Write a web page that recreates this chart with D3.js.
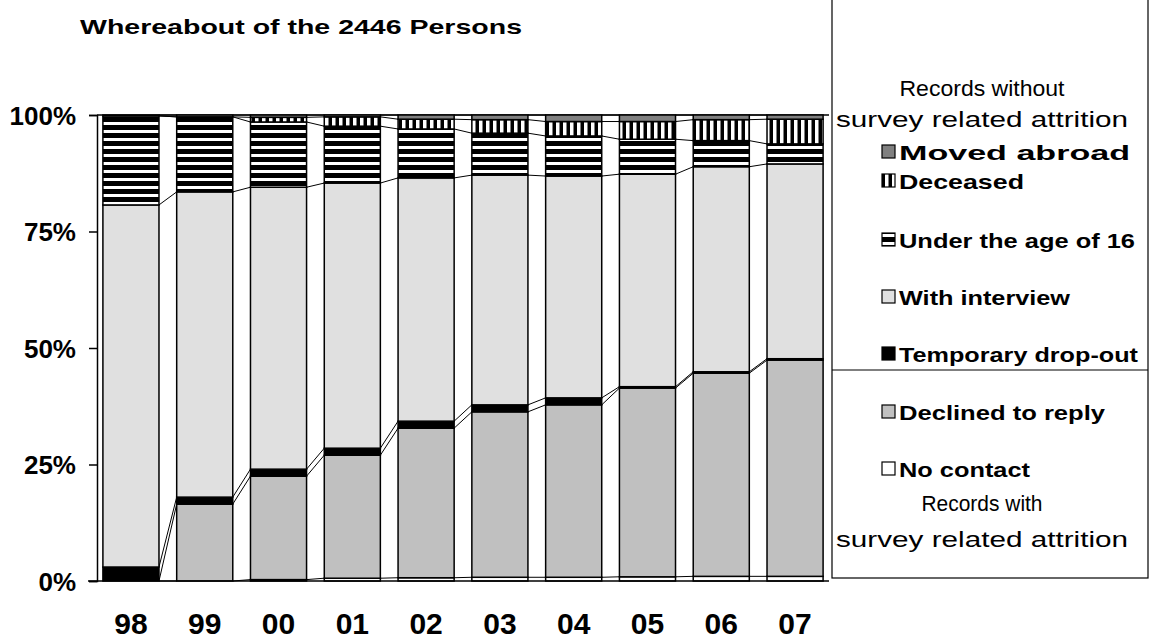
<!DOCTYPE html>
<html><head><meta charset="utf-8">
<script src="https://cdn.jsdelivr.net/npm/d3@7"></script>
<style>body{margin:0;background:#fff;font-family:"Liberation Sans",Arial,sans-serif;}</style>
</head><body><svg id="c" width="1158" height="643"></svg>
<script>
var years = ["98","99","00","01","02","03","04","05","06","07"];
// stacked bottom to top, percent
var noContact   = [0, 0, 0.3, 0.6, 0.7, 0.8, 0.8, 0.9, 1.0, 1.0];
var declined    = [0, 16.5, 22.2, 26.4, 32.1, 35.5, 37.0, 40.5, 43.6, 46.4];
var tempDrop    = [3.0, 1.5, 1.5, 1.5, 1.5, 1.5, 1.5, 0.3, 0.3, 0.3];
var interview   = [77.7, 65.5, 60.5, 56.9, 52.2, 49.3, 47.6, 45.6, 44.0, 41.8];
var under16     = [19.1, 16.1, 14.0, 12.2, 10.5, 9.0, 8.6, 7.5, 5.6, 4.3];
var deceased    = [0, 0, 1.0, 2.0, 2.1, 2.9, 3.1, 3.8, 4.5, 5.3];
var movedAbroad = [0.2, 0.4, 0.5, 0.4, 0.9, 1.0, 1.4, 1.4, 1.0, 0.9];
var yTicks = [0, 25, 50, 75, 100];

var series = [
  {name:"No contact", v:noContact, fill:"#fff"},
  {name:"Declined to reply", v:declined, fill:"#c0c0c0"},
  {name:"Temporary drop-out", v:tempDrop, fill:"#000"},
  {name:"With interview", v:interview, fill:"#e0e0e0"},
  {name:"Under the age of 16", v:under16, fill:"url(#hs)"},
  {name:"Deceased", v:deceased, fill:"url(#vs)"},
  {name:"Moved abroad", v:movedAbroad, fill:"#808080"}
];

var svg = d3.select("#c");
var defs = svg.append("defs");
var hs = defs.append("pattern").attr("id","hs").attr("patternUnits","userSpaceOnUse").attr("width",8).attr("height",8);
hs.append("rect").attr("width",8).attr("height",8).attr("fill","#000");
hs.append("rect").attr("y",2).attr("width",8).attr("height",3).attr("fill","#fff");
var vs = defs.append("pattern").attr("id","vs").attr("patternUnits","userSpaceOnUse").attr("width",7).attr("height",7);
vs.append("rect").attr("width",7).attr("height",7).attr("fill","#000");
vs.append("rect").attr("x",3).attr("width",3.5).attr("height",7).attr("fill","#fff");

var x = d3.scaleBand().domain(years).range([97, 829]).paddingInner(0.24).paddingOuter(0.08);
var y = d3.scaleLinear().domain([0, 100]).range([581, 115]);

var rows = years.map(function(yr, i) {
  var acc = 0;
  return series.map(function(s) { var r = {y0: acc, y1: acc + s.v[i]}; acc += s.v[i]; return r; });
});

svg.append("line").attr("x1",97).attr("x2",829).attr("y1",y(100)).attr("y2",y(100)).attr("stroke","#000").attr("stroke-width",1.5);

// connector lines
series.forEach(function(s, k) {
  for (var i = 0; i < years.length - 1; i++) {
    svg.append("line")
      .attr("x1", x(years[i]) + x.bandwidth()).attr("y1", y(rows[i][k].y1))
      .attr("x2", x(years[i+1])).attr("y2", y(rows[i+1][k].y1))
      .attr("stroke","#000").attr("stroke-width",1);
  }
});

years.forEach(function(yr, i) {
  series.forEach(function(s, k) {
    var r = rows[i][k];
    if (r.y1 - r.y0 <= 0) return;
    svg.append("rect").attr("x", x(yr)).attr("width", x.bandwidth())
      .attr("y", y(r.y1)).attr("height", y(r.y0) - y(r.y1))
      .attr("fill", s.fill).attr("stroke","#000").attr("stroke-width",1.5);
  });
});

var yAxis = svg.append("g").attr("transform","translate(97,0)")
  .call(d3.axisLeft(y).tickValues(yTicks).tickSize(8).tickFormat(function(d){return d+"%";}));
yAxis.selectAll("text").attr("font-size",26).attr("font-weight","bold").attr("font-family","Liberation Sans, Arial").attr("fill","#000").attr("x",-21).attr("dy","0.36em");
yAxis.selectAll("line,path").attr("stroke","#000").attr("stroke-width",1.5);

svg.append("line").attr("x1",88).attr("x2",829).attr("y1",581).attr("y2",581).attr("stroke","#000").attr("stroke-width",1.5);
svg.selectAll(".xl").data(years).enter().append("text")
  .attr("x", function(d){return x(d) + x.bandwidth() / 2;}).attr("y",634).attr("text-anchor","middle")
  .attr("font-size",30).attr("font-weight","bold").text(function(d){return d;});

svg.append("text").attr("x",80).attr("y",34).attr("font-size",21).attr("font-weight","bold")
  .attr("textLength",442).attr("lengthAdjust","spacingAndGlyphs").text("Whereabout of the 2446 Persons");

// legend
svg.append("rect").attr("x",832).attr("y",-2).attr("width",316).attr("height",580).attr("fill","none").attr("stroke","#000").attr("stroke-width",1.2);
svg.append("line").attr("x1",832).attr("x2",1148).attr("y1",370).attr("y2",370).attr("stroke","#000").attr("stroke-width",1.2);
[["Records without",96,165],["survey related attrition",127,292],["Records with",511,121],["survey related attrition",547,292]].forEach(function(t){
  svg.append("text").attr("x",982).attr("y",t[1]).attr("text-anchor","middle").attr("font-size",22)
    .attr("textLength",t[2]).attr("lengthAdjust","spacingAndGlyphs").text(t[0]);
});
var legY = [477, 420, 362, 305, 248, 189, 160];
var legW = [131, 206, 239, 171, 236, 125, 231];
series.forEach(function(s, k) {
  svg.append("rect").attr("x",882).attr("y",legY[k]-15).attr("width",13).attr("height",13).attr("fill",s.fill).attr("stroke","#000").attr("stroke-width",1.2);
  svg.append("text").attr("x",899).attr("y",legY[k]).attr("font-size",21).attr("font-weight","bold")
    .attr("textLength",legW[k]).attr("lengthAdjust","spacingAndGlyphs").text(s.name);
});
</script></body></html>
